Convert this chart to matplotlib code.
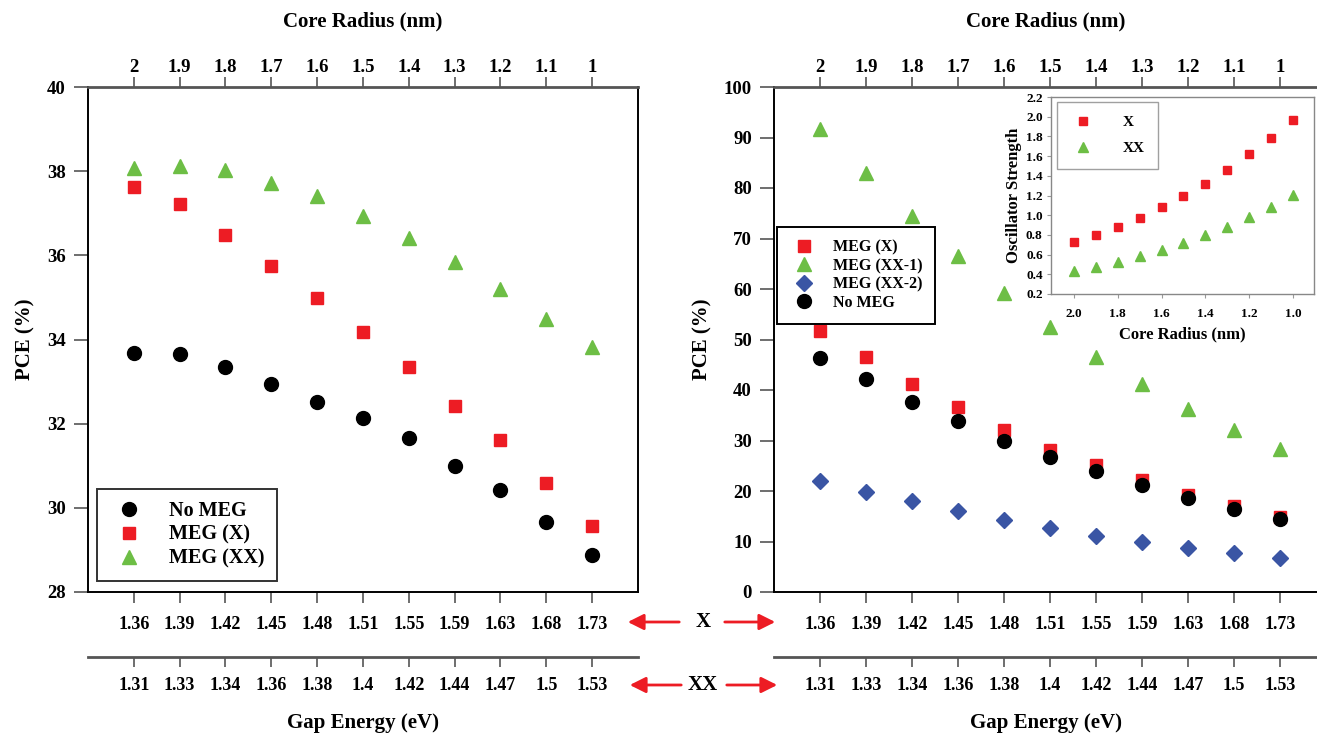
import matplotlib
matplotlib.use("Agg")
import matplotlib.pyplot as plt
from matplotlib.patches import FancyArrowPatch
import numpy as np

plt.rcParams['font.family'] = ['Liberation Serif', 'DejaVu Serif']
plt.rcParams['font.weight'] = 'bold'

# data
radius_labels = ['2', '1.9', '1.8', '1.7', '1.6', '1.5', '1.4', '1.3', '1.2', '1.1', '1']
gap_x = ['1.36', '1.39', '1.42', '1.45', '1.48', '1.51', '1.55', '1.59', '1.63', '1.68', '1.73']
gap_xx = ['1.31', '1.33', '1.34', '1.36', '1.38', '1.4', '1.42', '1.44', '1.47', '1.5', '1.53']

left_no_meg = [33.68, 33.65, 33.35, 32.94, 32.51, 32.13, 31.66, 30.99, 30.42, 29.66, 28.88]
left_meg_x = [37.62, 37.22, 36.48, 35.75, 34.99, 34.18, 33.35, 32.42, 31.61, 30.59, 29.57]
left_meg_xx = [38.07, 38.12, 38.03, 37.72, 37.41, 36.94, 36.41, 35.84, 35.20, 34.49, 33.82]

right_meg_x = [51.7, 46.5, 41.2, 36.6, 32.1, 28.1, 25.1, 22.2, 19.2, 17.0, 14.9]
right_meg_xx1 = [91.7, 83.0, 74.5, 66.5, 59.2, 52.5, 46.5, 41.2, 36.2, 32.1, 28.3]
right_meg_xx2 = [22.0, 19.8, 18.0, 16.0, 14.3, 12.7, 11.1, 9.9, 8.8, 7.7, 6.8]
right_no_meg = [46.3, 42.2, 37.6, 33.9, 29.9, 26.7, 24.0, 21.2, 18.6, 16.4, 14.5]

inset_radius = [2.0, 1.9, 1.8, 1.7, 1.6, 1.5, 1.4, 1.3, 1.2, 1.1, 1.0]
osc_x = [0.73, 0.80, 0.885, 0.976, 1.08, 1.20, 1.32, 1.455, 1.62, 1.78, 1.97]
osc_xx = [0.43, 0.473, 0.527, 0.581, 0.648, 0.719, 0.794, 0.881, 0.979, 1.084, 1.202]

RED = '#ED1C24'
GREEN = '#6DBE45'
BLUE = '#3A55A4'
GRAY = '#555555'

W, H = 1317, 734
fig = plt.figure(figsize=(W / 100, H / 100), dpi=100)

def fx(px):
    return px / W

def fy(py):
    return 1 - py / H

idx = np.arange(len(radius_labels))


def setup_panel(ax, xmax, ylim, yticks, right_spine):
    ax.set_xlim(-1, xmax)
    ax.set_ylim(*ylim)
    ax.set_yticks(yticks)
    ax.tick_params(axis='y', direction='out', length=10, width=1.2, color=GRAY,
                   labelsize=13.5, pad=6)
    ax.set_xticks(idx)
    ax.set_xticklabels(gap_x)
    ax.tick_params(axis='x', direction='out', length=8, width=1.2, color=GRAY,
                   labelsize=13, pad=9)
    for s in ['left', 'bottom', 'right']:
        ax.spines[s].set_linewidth(1.4)
        ax.spines[s].set_color('black')
    ax.spines['top'].set_visible(False)
    ax.spines['right'].set_visible(right_spine)
    ax.set_ylabel('PCE (%)', fontsize=15, fontweight='bold', labelpad=8)

    top = ax.twiny()
    top.set_xlim(-1, xmax)
    top.set_xticks(idx)
    top.set_xticklabels(radius_labels)
    top.tick_params(axis='x', direction='out', length=7, width=1.2, color=GRAY,
                    labelsize=13.5, pad=1)
    for s in ['left', 'bottom', 'right']:
        top.spines[s].set_visible(False)
    top.spines['top'].set_color(GRAY)
    top.spines['top'].set_linewidth(2)

    sec = ax.secondary_xaxis(-0.129)
    sec.set_xticks(idx)
    sec.set_xticklabels(gap_xx)
    sec.tick_params(axis='x', direction='out', length=7, width=1.2, color=GRAY,
                    labelsize=13, pad=7)
    sec.spines['bottom'].set_color(GRAY)
    sec.spines['bottom'].set_linewidth(2)

    ax.text(0.5, 1.13, 'Core Radius (nm)', transform=ax.transAxes, ha='center',
            va='center', fontsize=15, fontweight='bold')
    ax.text(0.5, -0.26, 'Gap Energy (eV)', transform=ax.transAxes, ha='center',
            va='center', fontsize=15, fontweight='bold')


# left panel
ax1 = fig.add_axes([fx(88), fy(592), fx(638) - fx(88), fy(87) - fy(592)])
setup_panel(ax1, 11, (28, 40), np.arange(28, 41, 2), True)
ax1.plot(idx, left_no_meg, 'o', color='black', ms=10, label='No MEG')
ax1.plot(idx, left_meg_x, 's', color=RED, ms=8.5, label='MEG (X)')
ax1.plot(idx, left_meg_xx, '^', color=GREEN, ms=10, label='MEG (XX)')
leg1 = ax1.legend(loc='lower left', bbox_to_anchor=(0.016, 0.022), borderaxespad=0,
                  fancybox=False, edgecolor='black', fontsize=14.5, labelspacing=0.2,
                  handletextpad=1.0, borderpad=0.6, handlelength=2.0)
leg1.get_frame().set_linewidth(1.4)

# right panel
ax2 = fig.add_axes([fx(774), fy(592), fx(1317) - fx(774), fy(87) - fy(592)])
setup_panel(ax2, 10.8, (0, 100), np.arange(0, 101, 10), False)
ax2.plot(idx, right_meg_x, 's', color=RED, ms=8.5, label='MEG (X)')
ax2.plot(idx, right_meg_xx1, '^', color=GREEN, ms=10, label='MEG (XX-1)')
ax2.plot(idx, right_meg_xx2, 'D', color=BLUE, ms=8, label='MEG (XX-2)')
ax2.plot(idx, right_no_meg, 'o', color='black', ms=10, label='No MEG')
leg2 = ax2.legend(loc='upper left', bbox_to_anchor=(0.005, 0.723), borderaxespad=0,
                  fancybox=False, edgecolor='black', fontsize=11.5, labelspacing=0.15,
                  handletextpad=0.9, borderpad=0.8, handlelength=1.8, framealpha=1)
leg2.get_frame().set_linewidth(1.4)

# inset
ins = fig.add_axes([fx(1051), fy(294), fx(1314) - fx(1051), fy(97) - fy(294)])
ins.plot(inset_radius, osc_x, 's', color=RED, ms=6, label='X')
ins.plot(inset_radius, osc_xx, '^', color=GREEN, ms=7, label='XX')
ins.set_xlim(2.105, 0.904)
ins.set_ylim(0.2, 2.2)
ins.set_yticks(np.arange(0.2, 2.21, 0.2))
ins.set_yticklabels([f'{v:.1f}' for v in np.arange(0.2, 2.21, 0.2)])
ins.set_xticks([2.0, 1.8, 1.6, 1.4, 1.2, 1.0])
ins.set_xticklabels(['2.0', '1.8', '1.6', '1.4', '1.2', '1.0'])
ins.tick_params(axis='both', direction='out', length=3, width=0.8, color='#999999',
                labelsize=9.5, pad=3)
ins.tick_params(axis='x', pad=7)
for s in ins.spines.values():
    s.set_color('#888888')
    s.set_linewidth(1)
ins.set_ylabel('Oscillator Strength', fontsize=12, fontweight='bold', labelpad=3)
ins.set_xlabel('Core Radius (nm)', fontsize=12, fontweight='bold', labelpad=5)
leg3 = ins.legend(loc='upper left', bbox_to_anchor=(0.023, 0.975), borderaxespad=0,
                  fancybox=False, edgecolor='#888888', fontsize=11, labelspacing=0.8,
                  handletextpad=1.8, borderpad=0.9, handlelength=1.6)
leg3.get_frame().set_linewidth(1)

# X / XX labels with red arrows between the panels
for label, py, lx0, lx1, rx0, rx1 in [('X', 622, 682, 625, 722, 778),
                                       ('XX', 685, 684, 627, 724, 780)]:
    fig.text(fx(703), fy(py), label, ha='center', va='center', fontsize=15,
             fontweight='bold')
    for a, b in [(lx0, lx1), (rx0, rx1)]:
        fig.add_artist(FancyArrowPatch((fx(a), fy(py)), (fx(b), fy(py)),
                                       transform=fig.transFigure, arrowstyle='-|>',
                                       mutation_scale=24, color=RED, lw=2))

fig.savefig('out.png', dpi=100)
